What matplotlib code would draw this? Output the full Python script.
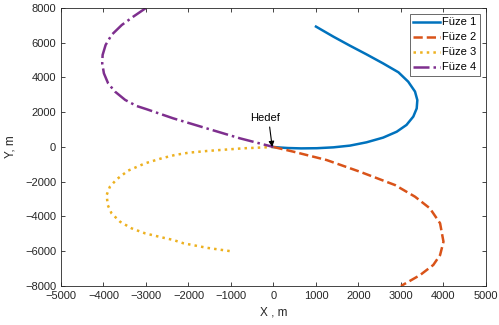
import matplotlib
matplotlib.use('Agg')
import matplotlib.pyplot as plt

# trajectories (m)
fuze1_x = [1000, 1410, 1800, 2190, 2580, 2940, 3170, 3330, 3385, 3370, 3290, 3130, 2900, 2580, 2190, 1800, 1410, 1020, 650, 350, 150, 0]
fuze1_y = [6930, 6350, 5830, 5330, 4810, 4300, 3760, 3190, 2700, 2220, 1750, 1270, 880, 540, 270, 80, -20, -70, -80, -60, -30, 0]

fuze2_x = [0, 470, 1250, 2030, 2860, 3330, 3680, 3920, 4000, 3920, 3760, 3450, 3000]
fuze2_y = [0, -270, -750, -1420, -2190, -2860, -3530, -4390, -5450, -6220, -6790, -7370, -8000]

fuze3_x = [0, -710, -1570, -2000, -2320, -2630, -3020, -3420, -3690, -3850, -3925, -3900, -3810, -3610, -3340, -3020, -2630, -2360, -2120, -1570, -1000]
fuze3_y = [0, -75, -230, -330, -460, -650, -940, -1360, -1860, -2290, -2760, -3340, -3820, -4300, -4680, -4970, -5200, -5350, -5540, -5800, -6000]

fuze4_x = [-3000, -3300, -3570, -3810, -3950, -4020, -4030, -3990, -3890, -3730, -3490, -3220, -2980, -2360, -1570, -790, 0]
fuze4_y = [8000, 7500, 7020, 6450, 5870, 5300, 4820, 4240, 3660, 3190, 2710, 2360, 2170, 1650, 1070, 500, 0]

labels = ['Füze 1', 'Füze 2', 'Füze 3', 'Füze 4']
colors = ['#0072BD', '#D95319', '#EDB120', '#7E2F8E']
styles = ['-', '--', ':', '-.']

plt.rcParams['font.family'] = ['Liberation Sans', 'DejaVu Sans']
plt.rcParams['font.size'] = 8

fig = plt.figure(figsize=(4.99, 3.25), dpi=100)
ax = fig.add_axes([0.1222, 0.12, 0.8517, 0.8554])

series = [(fuze1_x, fuze1_y), (fuze2_x, fuze2_y), (fuze3_x, fuze3_y), (fuze4_x, fuze4_y)]
for (xs, ys), lab, c, ls in zip(series, labels, colors, styles):
	ax.plot(xs, ys, ls, color=c, lw=1.8, label=lab)

# target marker text + arrow
ax.text(-200, 1400, 'Hedef', ha='center', va='bottom', fontsize=8)
ax.annotate('', xy=(-30, 0), xytext=(-90, 1150),
	arrowprops=dict(arrowstyle='-|>', color='k', lw=0.8, mutation_scale=8, shrinkA=0, shrinkB=0))

ax.set_xlim(-5000, 5000)
ax.set_ylim(-8000, 8000)
ax.set_xticks(range(-5000, 5001, 1000))
ax.set_yticks(range(-8000, 8001, 2000))
ax.tick_params(direction='in', top=True, right=True, length=3, width=0.6, colors='#262626', labelsize=8)
for s in ax.spines.values():
	s.set_color('#262626')
	s.set_linewidth(0.6)
ax.set_xlabel('X , m', fontsize=8.5, color='#262626')
ax.set_ylabel('Y, m', fontsize=8.5, color='#262626', labelpad=6)

leg = ax.legend(loc='upper right', fontsize=8, frameon=True, fancybox=False,
	edgecolor='#262626', handlelength=2.4, handletextpad=0.2, borderpad=0.35,
	labelspacing=0.45, borderaxespad=0.5)
leg.get_frame().set_linewidth(0.6)

fig.savefig('out.png', dpi=100)
